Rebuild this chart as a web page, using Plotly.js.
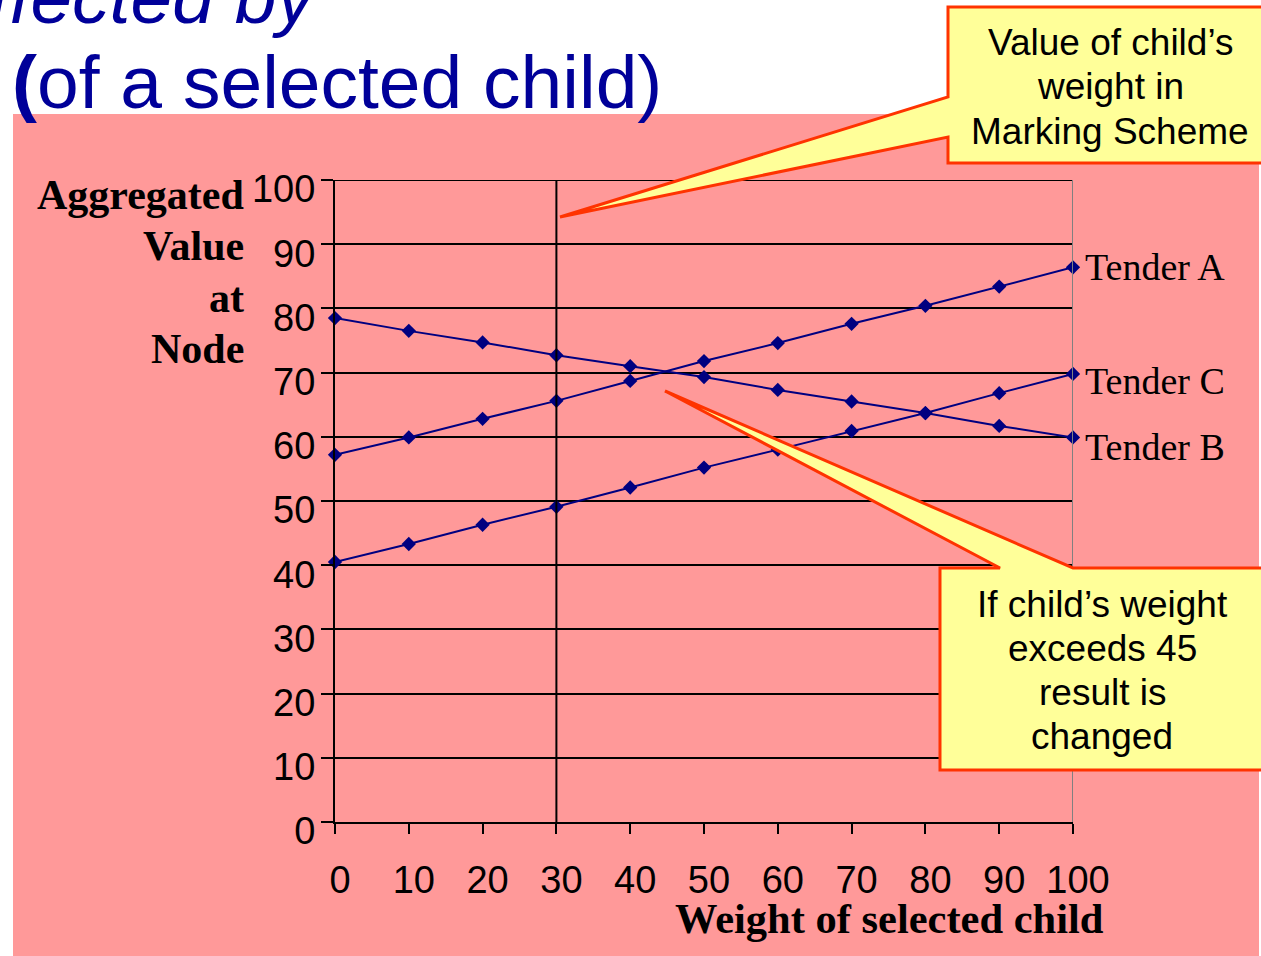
<!DOCTYPE html>
<html>
<head>
<meta charset="utf-8">
<script src="https://cdn.plot.ly/plotly-3.0.1.min.js"></script>
<style>
html,body{margin:0;padding:0;background:#fff;}
#chart{width:1261px;height:956px;}
</style>
</head>
<body>
<div id="chart"></div>
<script>
// ---- data ----
const weights = [0, 10, 20, 30, 40, 50, 60, 70, 80, 90, 100];
const tenderA = [57.2, 59.9, 62.8, 65.6, 68.7, 71.8, 74.6, 77.6, 80.4, 83.4, 86.4];
const tenderB = [78.5, 76.5, 74.7, 72.7, 71.0, 69.3, 67.3, 65.5, 63.7, 61.7, 59.9];
const tenderC = [40.5, 43.3, 46.3, 49.1, 52.1, 55.2, 58.0, 60.9, 63.7, 66.8, 69.8];
const seriesNames = ["Tender A", "Tender B", "Tender C"];
const xTicks = [0, 10, 20, 30, 40, 50, 60, 70, 80, 90, 100];
const yTicks = [0, 10, 20, 30, 40, 50, 60, 70, 80, 90, 100];
const markingSchemeWeight = 30;
const yTitleLines = ["Aggregated", "Value", "at", "Node"];
const callout1Lines = ["Value of child’s", "weight in", "Marking Scheme"];
const callout2Lines = ["If child’s weight", "exceeds 45", "result is", "changed"];

// ---- layout helpers (pixel -> paper) ----
const W = 1261, H = 956;
const PL = 335, PR = 1073, PT = 180, PB = 822;
const fx = x => (x - PL) / (PR - PL);
const fy = y => (PB - y) / (PB - PT);
const path = pts => pts.map((p, i) => (i ? "L" : "M") + fx(p[0]).toFixed(5) + "," + fy(p[1]).toFixed(5)).join(" ") + " Z";

const navy = "#000080";
const sans = "Liberation Sans, Arial, sans-serif";
const serif = "Liberation Serif, Times New Roman, serif";

const seriesData = [tenderA, tenderB, tenderC];
const traces = seriesData.map((ys, i) => ({
  type: "scatter", mode: "lines+markers", name: seriesNames[i],
  x: weights, y: ys, cliponaxis: false,
  line: {color: navy, width: 2},
  marker: {symbol: "diamond", size: 11, color: navy},
  showlegend: false, hoverinfo: "skip"
}));

const labelShift = [0, -10, -7];
const tenderLabels = seriesData.map((ys, i) => ({
  xref: "x", yref: "y", x: 100, y: ys[ys.length - 1],
  text: seriesNames[i], showarrow: false, xanchor: "left", yanchor: "middle",
  xshift: 10, yshift: labelShift[i],
  font: {family: serif, size: 38, color: "#000"}
}));

function lines(arr, cx, y0, dy, anchor, font) {
  return arr.map((t, i) => ({
    xref: "paper", yref: "paper", x: fx(cx), y: fy(y0 + i * dy),
    xanchor: anchor, yanchor: "middle", text: t, showarrow: false, font: font
  }));
}

const layout = {
  width: W, height: H,
  margin: {l: PL, r: W - PR, t: PT, b: H - PB, pad: 0},
  paper_bgcolor: "#ffffff",
  plot_bgcolor: "rgba(0,0,0,0)",
  xaxis: {
    range: [0, 100], tickvals: xTicks, ticktext: xTicks.map(String),
    showgrid: false, zeroline: false,
    showline: true, linecolor: "#000", linewidth: 2,
    ticks: "outside", ticklen: 10, tickwidth: 2, tickcolor: "#000",
    tickfont: {family: sans, size: 38, color: "#000"},
    ticklabelstandoff: 13, ticklabelshift: 5
  },
  yaxis: {
    range: [0, 100], tickvals: yTicks, ticktext: yTicks.map(String),
    showgrid: true, gridcolor: "#000", gridwidth: 2, zeroline: false,
    showline: true, linecolor: "#000", linewidth: 2,
    ticks: "outside", ticklen: 12, tickwidth: 2, tickcolor: "#000",
    tickfont: {family: sans, size: 38, color: "#000"},
    ticklabelshift: 9, ticklabelstandoff: -2
  },
  shapes: [
    // pink slide panel
    {type: "rect", xref: "paper", yref: "paper", layer: "below",
     x0: fx(13), x1: fx(1259), y0: fy(956), y1: fy(114),
     fillcolor: "#FF9999", line: {width: 0}},
    // top grid line at 100
    {type: "line", xref: "x", yref: "y", layer: "above",
     x0: 0, x1: 100, y0: 100, y1: 100,
     line: {color: "#000", width: 2}},
    // marking scheme weight line
    {type: "line", xref: "x", yref: "y", layer: "above",
     x0: markingSchemeWeight, x1: markingSchemeWeight, y0: 0, y1: 100,
     line: {color: "#000", width: 2}},
    // right border
    {type: "line", xref: "x", yref: "y", layer: "above",
     x0: 100, x1: 100, y0: 0, y1: 100,
     line: {color: "#808080", width: 2}},
    // callout 1
    {type: "path", xref: "paper", yref: "paper", layer: "above",
     path: path([[948, 7], [1264, 7], [1264, 163], [948, 163], [948, 137], [560, 217], [948, 97]]),
     fillcolor: "#FFFF99", line: {color: "#FF3300", width: 3}},
    // callout 2
    {type: "path", xref: "paper", yref: "paper", layer: "above",
     path: path([[940, 568], [1000, 568], [665, 391], [1073, 568], [1264, 568], [1264, 770], [940, 770]]),
     fillcolor: "#FFFF99", line: {color: "#FF3300", width: 3}}
  ],
  annotations: [
    {xref: "paper", yref: "paper", x: fx(320), y: fy(-3), xanchor: "right", yanchor: "middle",
     text: "<i>affected by</i>", showarrow: false,
     font: {family: sans, size: 75, color: "#000099"}},
    {xref: "paper", yref: "paper", x: fx(10), y: fy(82), xanchor: "left", yanchor: "middle",
     text: "<b>(</b>of a selected child)", showarrow: false,
     font: {family: sans, size: 75, color: "#000099"}},
    {xref: "paper", yref: "paper", x: fx(1106), y: fy(918), xanchor: "right", yanchor: "middle",
     text: "<b>Weight of selected child</b>", showarrow: false,
     font: {family: serif, size: 42.5, color: "#000"}}
  ]
  .concat(lines(yTitleLines.map(t => "<b>" + t + "</b>"), 246, 195, 51.3, "right", {family: serif, size: 42, color: "#000"}))
  .concat(lines(callout1Lines, 1110, 42, 44.5, "center", {family: sans, size: 37, color: "#000"}))
  .concat(lines(callout2Lines, 1102, 604, 44.3, "center", {family: sans, size: 37, color: "#000"}))
  .concat(tenderLabels)
};

Plotly.newPlot("chart", traces, layout, {displayModeBar: false, staticPlot: true});
</script>
</body>
</html>
